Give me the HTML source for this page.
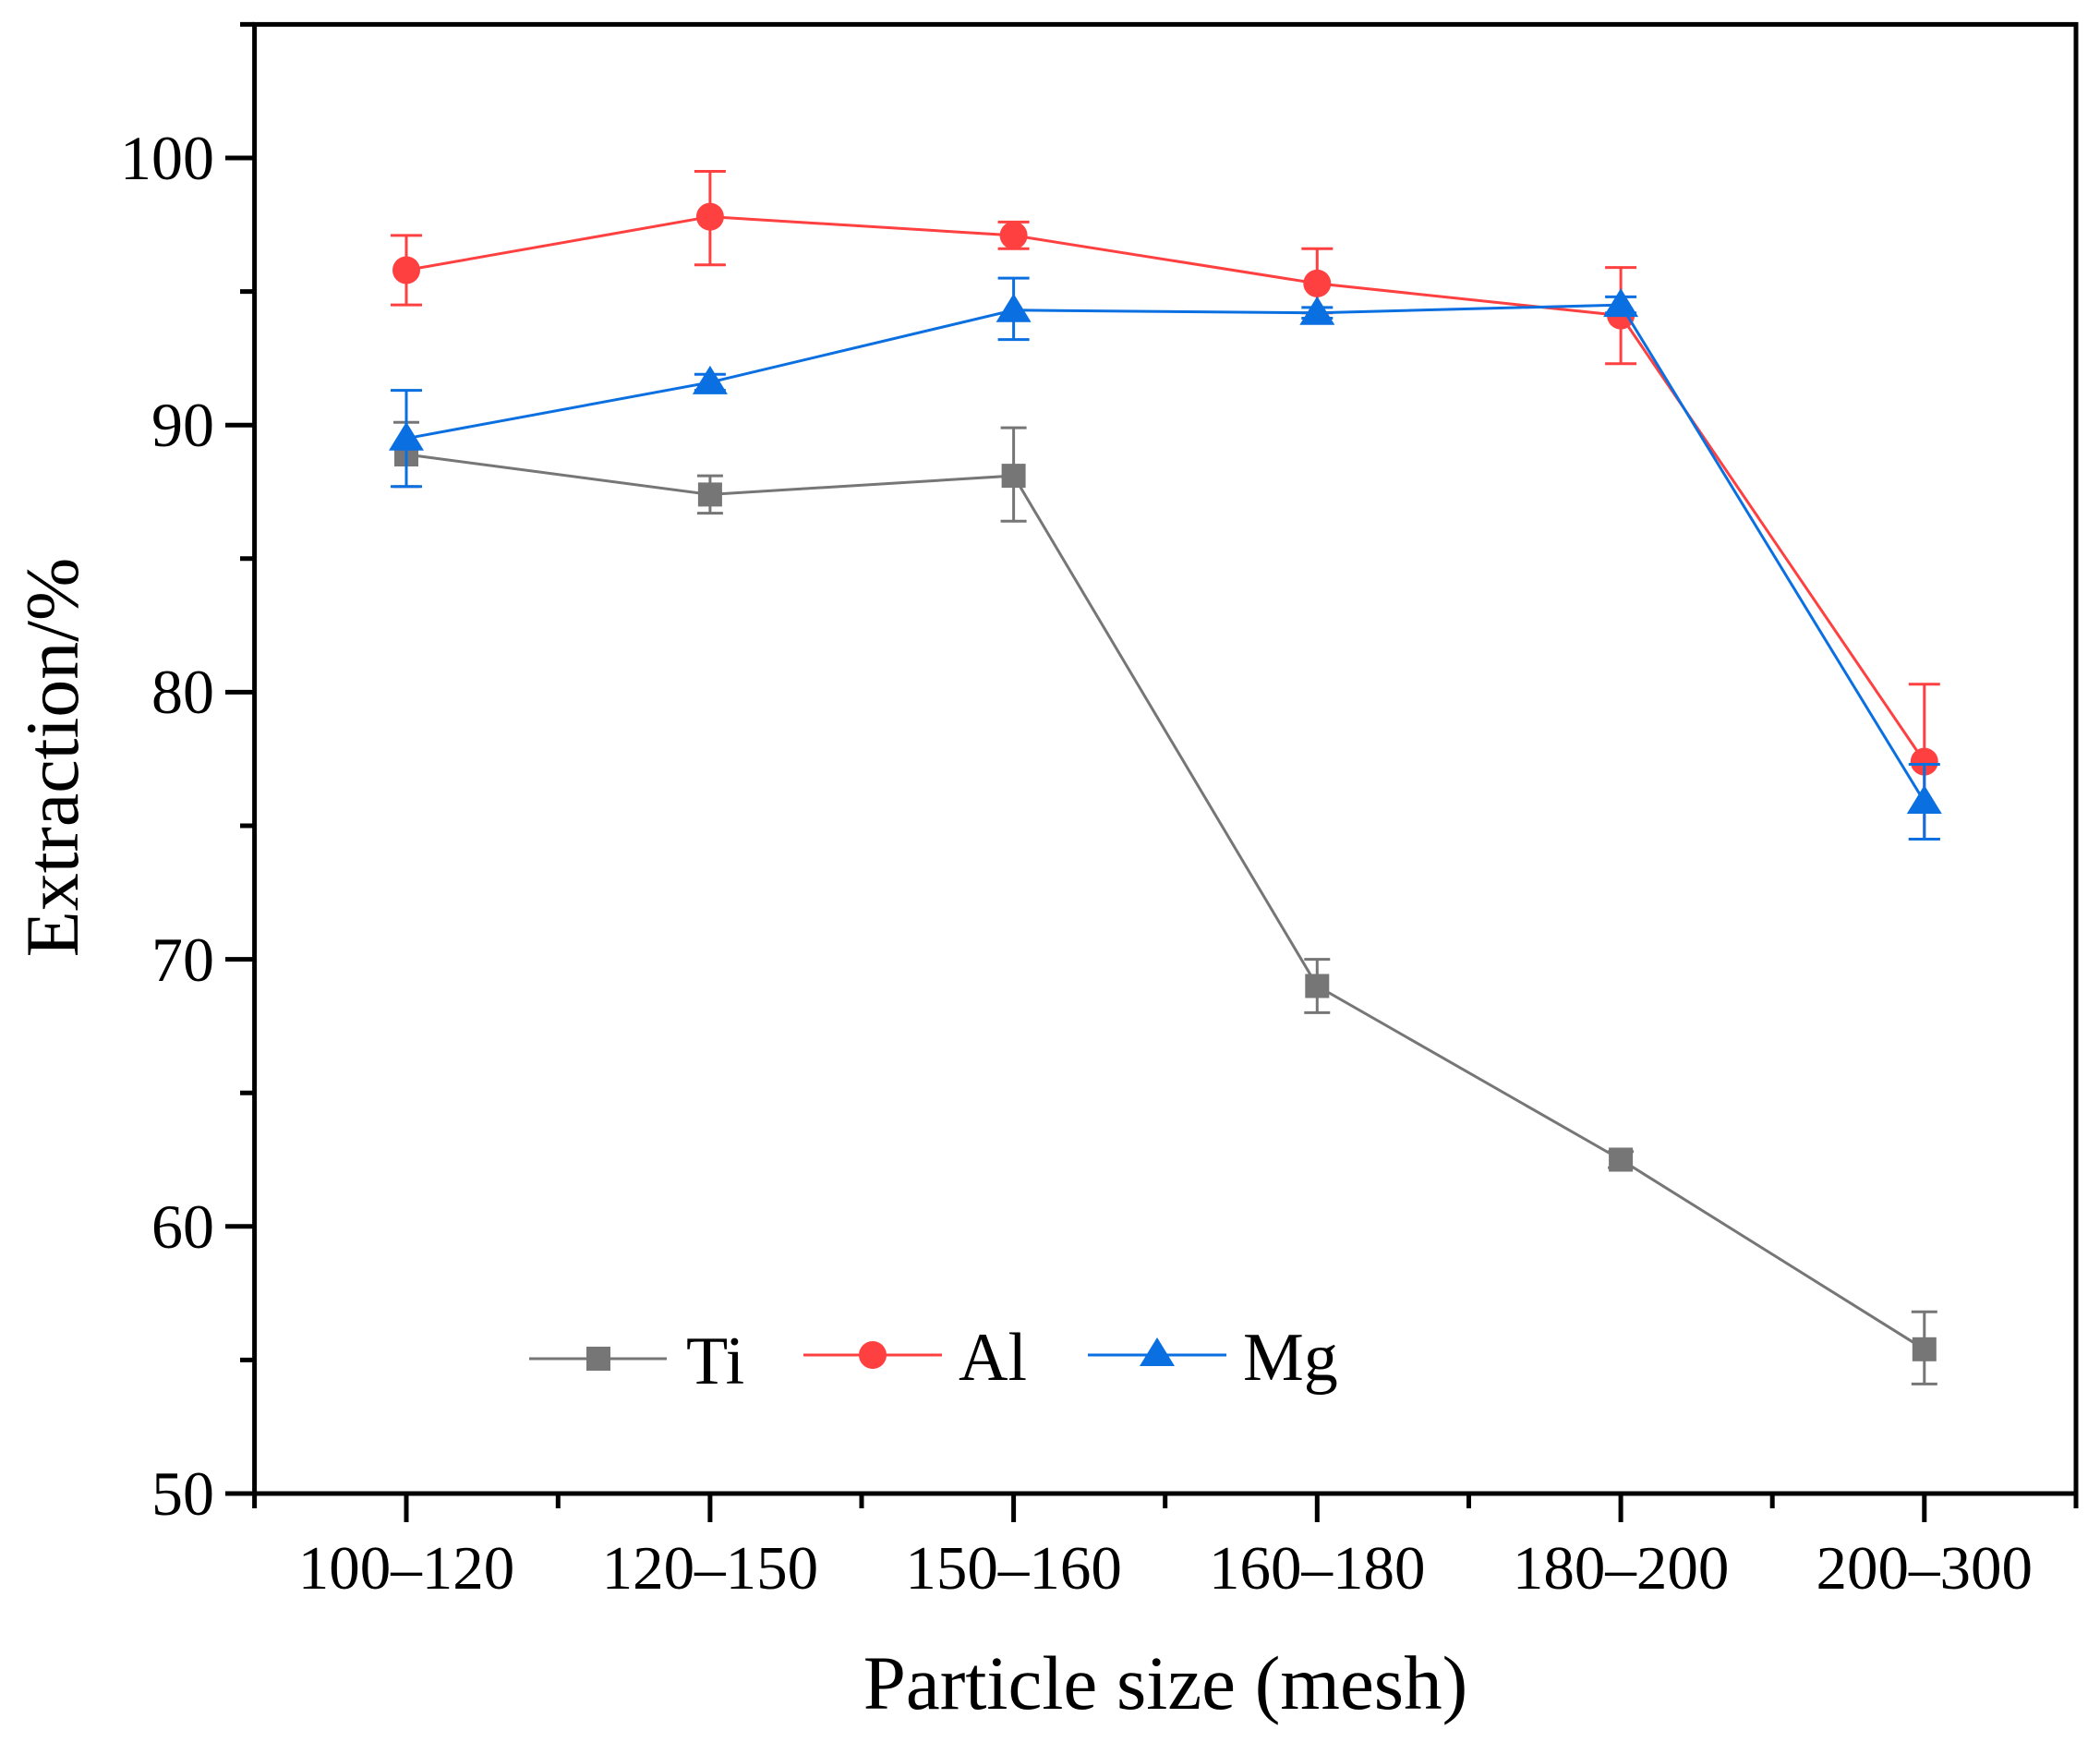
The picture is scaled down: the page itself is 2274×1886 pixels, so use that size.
<!DOCTYPE html>
<html><head><meta charset="utf-8"><style>html,body{margin:0;padding:0;background:#fff}svg{display:block}</style></head>
<body>
<svg width="2274" height="1886" viewBox="0 0 2274 1886" xmlns="http://www.w3.org/2000/svg" font-family="'Liberation Serif',serif">
<rect width="2274" height="1886" fill="#fff"/>
<!-- Ti -->
<g stroke="#767676" stroke-width="3" fill="none">
<polyline points="440,492 768.9,535.4 1097.6,515.1 1426.3,1067.5 1755.1,1255.5 2083.8,1460.8"/>
<path d="M440,526.7V457.3M426,526.7h28M426,457.3h28
M768.9,555.6V515.1M754.9,555.6h28M754.9,515.1h28
M1097.6,564.3V463.1M1083.6,564.3h28M1083.6,463.1h28
M1426.3,1096.4V1038.6M1412.3,1096.4h28M1412.3,1038.6h28
M1755.1,1264.2V1246.8M1741.1,1264.2h28M1741.1,1246.8h28
M2083.8,1498.4V1420.3M2069.8,1498.4h28M2069.8,1420.3h28"/>
</g>
<g fill="#767676">
<rect x="427" y="479" width="26" height="26"/><rect x="755.9" y="522.4" width="26" height="26"/><rect x="1084.6" y="502.1" width="26" height="26"/><rect x="1413.3" y="1054.5" width="26" height="26"/><rect x="1742.1" y="1242.5" width="26" height="26"/><rect x="2070.8" y="1447.8" width="26" height="26"/>
</g>
<!-- Al -->
<g stroke="#FF4040" stroke-width="3" fill="none">
<polyline points="440,292.5 768.9,234.6 1097.6,254.9 1426.3,306.9 1755.1,341.6 2083.8,824.6"/>
<path d="M440,330.1V254.9M423,330.1h34M423,254.9h34
M768.9,286.7V185.5M751.9,286.7h34M751.9,185.5h34
M1097.6,269.3V240.4M1080.6,269.3h34M1080.6,240.4h34
M1426.3,338.7V269.3M1409.3,338.7h34M1409.3,269.3h34
M1755.1,393.7V289.6M1738.1,393.7h34M1738.1,289.6h34
M2083.8,908.5V740.8M2066.8,908.5h34M2066.8,740.8h34"/>
</g>
<g fill="#FF4040">
<circle cx="440" cy="292.5" r="15"/><circle cx="768.9" cy="234.6" r="15"/><circle cx="1097.6" cy="254.9" r="15"/><circle cx="1426.3" cy="306.9" r="15"/><circle cx="1755.1" cy="341.6" r="15"/><circle cx="2083.8" cy="824.6" r="15"/>
</g>
<!-- Mg -->
<g stroke="#0A6FE0" stroke-width="3" fill="none">
<polyline points="440,474.7 768.9,413.9 1097.6,335.8 1426.3,338.7 1755.1,330.1 2083.8,868"/>
<path d="M440,526.7V422.6M423,526.7h34M423,422.6h34
M768.9,422.6V405.3M751.9,422.6h34M751.9,405.3h34
M1097.6,367.6V301.1M1080.6,367.6h34M1080.6,301.1h34
M1426.3,344.5V332.9M1409.3,344.5h34M1409.3,332.9h34
M1755.1,338.7V321.4M1738.1,338.7h34M1738.1,321.4h34
M2083.8,908.5V827.5M2066.8,908.5h34M2066.8,827.5h34"/>
</g>
<g fill="#0A6FE0">
<path d="M440,456.7l19,31h-38z"/><path d="M768.9,395.9l19,31h-38z"/><path d="M1097.6,317.8l19,31h-38z"/><path d="M1426.3,320.7l19,31h-38z"/><path d="M1755.1,312.1l19,31h-38z"/><path d="M2083.8,850l19,31h-38z"/>
</g>
<!-- frame -->
<rect x="275.6" y="26.4" width="1972.4" height="1590.6" fill="none" stroke="#000" stroke-width="5"/>
<g stroke="#000" stroke-width="5">
<path d="M244,1617h31.6M244,1327.8h31.6M244,1038.6h31.6M244,749.4h31.6M244,460.2h31.6M244,171h31.6"/>
<path d="M260,1472.4h15.6M260,1183.2h15.6M260,894h15.6M260,604.8h15.6M260,315.6h15.6M260,26.4h15.6"/>
<path d="M440,1617v31M768.9,1617v31M1097.6,1617v31M1426.3,1617v31M1755.1,1617v31M2083.8,1617v31"/>
<path d="M275.6,1617v16M604.3,1617v16M933,1617v16M1261.7,1617v16M1590.5,1617v16M1919.2,1617v16M2248,1617v16"/>
</g>
<g font-size="68" fill="#000" text-anchor="end">
<text x="232" y="1640">50</text><text x="232" y="1351">60</text><text x="232" y="1062">70</text><text x="232" y="772">80</text><text x="232" y="483">90</text><text x="232" y="194">100</text>
</g>
<g font-size="67" fill="#000" text-anchor="middle">
<text x="440" y="1720">100–120</text><text x="768.9" y="1720">120–150</text><text x="1097.6" y="1720">150–160</text><text x="1426.3" y="1720">160–180</text><text x="1755.1" y="1720">180–200</text><text x="2083.8" y="1720">200–300</text>
</g>
<text x="1262" y="1850" font-size="83" text-anchor="middle">Particle size (mesh)</text>
<text transform="translate(84,820) rotate(-90)" font-size="82" text-anchor="middle">Extraction/%</text>
<!-- legend -->
<line x1="573" y1="1471" x2="722" y2="1471" stroke="#767676" stroke-width="3"/>
<rect x="635" y="1458" width="26" height="26" fill="#767676"/>
<text x="743" y="1498" font-size="74">Ti</text>
<line x1="870" y1="1467" x2="1020" y2="1467" stroke="#FF4040" stroke-width="3"/>
<circle cx="945" cy="1467" r="15" fill="#FF4040"/>
<text x="1038" y="1494" font-size="74">Al</text>
<line x1="1178" y1="1467" x2="1328" y2="1467" stroke="#0A6FE0" stroke-width="3"/>
<path d="M1253,1448l19,31h-38z" fill="#0A6FE0"/>
<text x="1346" y="1494" font-size="74">Mg</text>
</svg>
</body></html>
